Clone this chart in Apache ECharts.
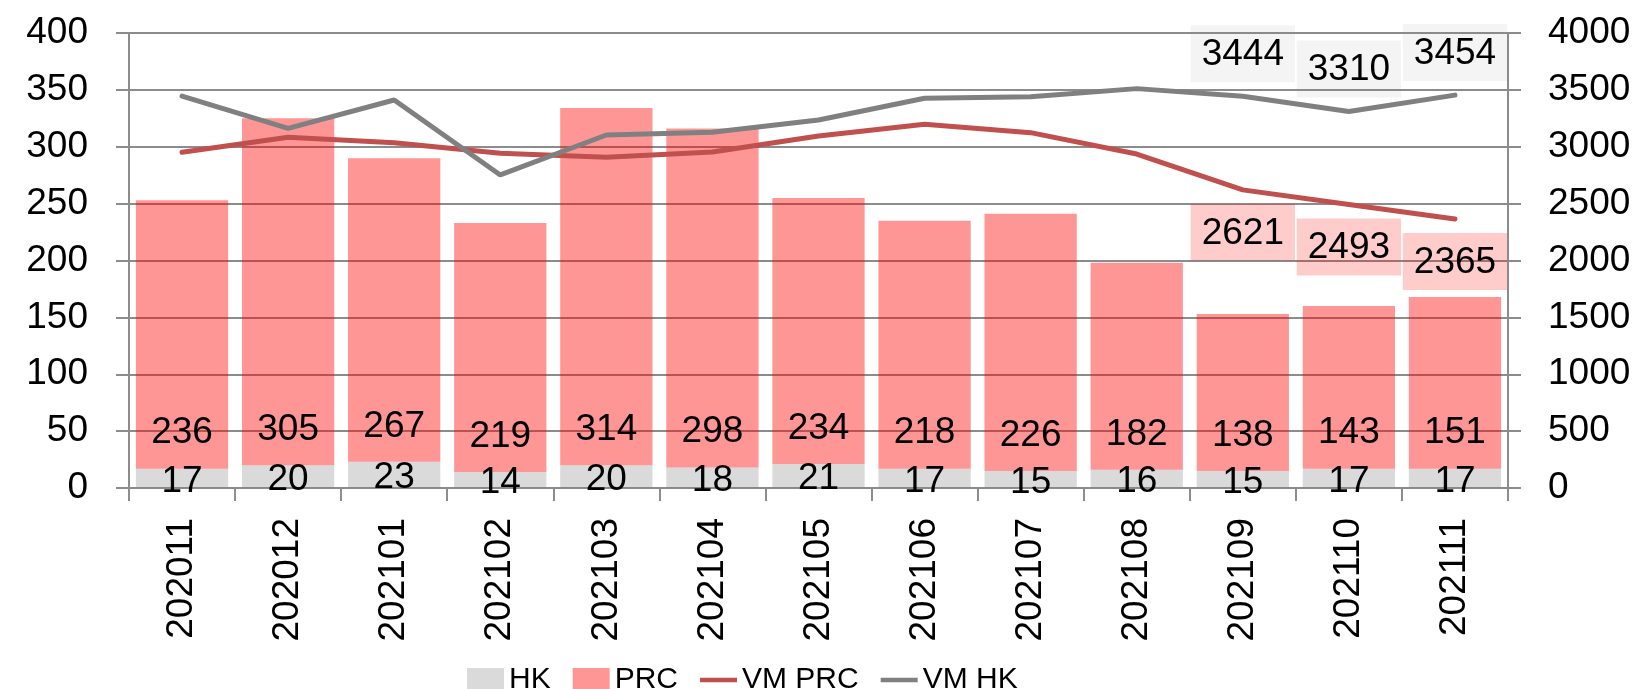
<!DOCTYPE html>
<html>
<head>
<meta charset="utf-8">
<script src="https://cdn.jsdelivr.net/npm/echarts@6/dist/echarts.min.js"></script>
<style>
  html, body { margin: 0; padding: 0; background: #fff; }
  #chart { width: 1641px; height: 689px; }
</style>
</head>
<body>
<div id="chart"></div>
<script>
// 月份
const months = ["202011", "202012", "202101", "202102", "202103", "202104", "202105",
  "202106", "202107", "202108", "202109", "202110", "202111"];
// 柱状（左轴）
const hk = [17, 20, 23, 14, 20, 18, 21, 17, 15, 16, 15, 17, 17];
const prc = [236, 305, 267, 219, 314, 298, 234, 218, 226, 182, 138, 143, 151];
// 折线（右轴）
const vmPrc = [2951, 3083, 3036, 2942, 2907, 2954, 3094, 3197, 3124, 2936, 2621, 2493, 2365];
const vmHk = [3446, 3162, 3411, 2752, 3103, 3127, 3235, 3426, 3440, 3511, 3444, 3310, 3454];
// 只给最后三个点标数值
const labelFrom = 10;

const FONT = "Liberation Sans";
const LINE_ICON = "path://M0,0 H40 V5 H0 Z";
const chart = echarts.init(document.getElementById("chart"));

function lineData(values, bg, pos) {
  return values.map((v, i) => {
    if (i < labelFrom) return v;
    return {
      value: v,
      symbol: "circle",
      symbolSize: 0,
      label: {
        show: true,
        position: pos,
        distance: 14,
        fontFamily: FONT,
        fontSize: 37,
        color: "#000",
        backgroundColor: bg,
        padding: [11, 11, 9, 11],
      },
    };
  });
}

const options = {
  animation: false,
  grid: { left: 129, right: 133, top: 33, bottom: 201 },
  legend: {
    left: 462,
    top: 660,
    itemWidth: 37,
    itemHeight: 24,
    itemGap: 22,
    lineStyle: { width: 5, cap: "round" },
    textStyle: { fontFamily: FONT, fontSize: 30, color: "#000" },
    data: [
      { name: "HK", icon: "rect" },
      { name: "PRC", icon: "rect" },
      { name: "VM PRC", icon: LINE_ICON },
      { name: "VM HK", icon: LINE_ICON },
    ],
  },
  xAxis: {
    type: "category",
    data: months,
    axisLine: { lineStyle: { color: "#8c8c8c", width: 2 } },
    axisTick: { show: true, length: 13, lineStyle: { color: "#8c8c8c", width: 2 } },
    axisLabel: { interval: 0, rotate: 90, margin: 30, fontFamily: FONT, fontSize: 37, color: "#000" },
  },
  yAxis: [
    {
      type: "value",
      min: 0,
      max: 400,
      interval: 50,
      axisLine: { show: true, lineStyle: { color: "#8c8c8c", width: 2 } },
      axisTick: { show: true, length: 13, lineStyle: { color: "#8c8c8c", width: 2 } },
      splitLine: { lineStyle: { color: "#8c8c8c", width: 2 } },
      axisLabel: { margin: 41, fontFamily: FONT, fontSize: 37, color: "#000" },
    },
    {
      type: "value",
      min: 0,
      max: 4000,
      interval: 500,
      axisLine: { show: true, lineStyle: { color: "#8c8c8c", width: 2 } },
      axisTick: { show: true, length: 13, lineStyle: { color: "#8c8c8c", width: 2 } },
      splitLine: { show: false },
      axisLabel: { margin: 40, fontFamily: FONT, fontSize: 37, color: "#000", formatter: (v) => String(v) },
    },
  ],
  series: [
    {
      name: "HK",
      type: "bar",
      stack: "total",
      barCategoryGap: "13%",
      data: hk,
      itemStyle: { color: "rgba(128,128,128,0.29)" },
      label: { show: true, position: "inside", offset: [0, 3], fontFamily: FONT, fontSize: 37, color: "#000" },
    },
    {
      name: "PRC",
      type: "bar",
      stack: "total",
      data: prc,
      itemStyle: { color: "rgba(255,0,0,0.41)" },
      label: { show: true, position: "insideBottom", distance: 17, fontFamily: FONT, fontSize: 37, color: "#000" },
    },
    {
      name: "VM PRC",
      type: "line",
      yAxisIndex: 1,
      symbol: "none",
      data: lineData(vmPrc, "rgba(255,0,0,0.2)", "bottom"),
      lineStyle: { color: "#c0504d", width: 5, cap: "round" },
      itemStyle: { color: "#c0504d" },
    },
    {
      name: "VM HK",
      type: "line",
      yAxisIndex: 1,
      symbol: "none",
      data: lineData(vmHk, "rgba(128,128,128,0.09)", "top"),
      lineStyle: { color: "#808080", width: 5, cap: "round" },
      itemStyle: { color: "#808080" },
    },
  ],
};

chart.setOption(options);
</script>
</body>
</html>
